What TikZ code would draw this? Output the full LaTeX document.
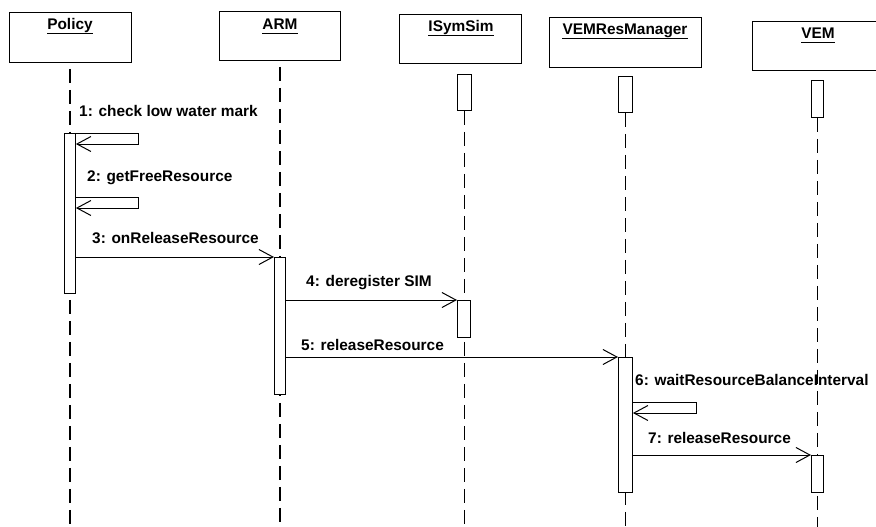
\documentclass[tikz,border=0pt]{standalone}
\usepackage{fontspec}
\setmainfont{Liberation Sans}
\usetikzlibrary{arrows.meta,calc}

\begin{document}
\begin{tikzpicture}[x=1pt,y=-1pt,
  font=\fontsize{15.4}{17}\selectfont\bfseries,
  headbox/.style={draw, line width=0.9pt, inner sep=0pt, anchor=north west},
  headtitle/.style={anchor=base, inner sep=0pt},
  titlerule/.style={line width=1.7pt},
  act/.style={draw, fill=white, line width=0.9pt, inner sep=0pt, anchor=north west, minimum width=11pt},
  lifeline/.style={line width=1.8pt, dash pattern=on 14pt off 7pt},
  msg/.style={line width=0.9pt, -{Straight Barb[length=14pt, width=15pt, line width=1pt]}},
  msglabel/.style={anchor=base west, inner sep=0pt},
]
\useasboundingbox (0,0) rectangle (876,527);
\clip (0,0) rectangle (876,527);
\coordinate (bottom) at (0,530);

% object heads
\node[headbox, minimum width=122pt, minimum height=50pt] (pol) at (9,12) {};
\node[headbox, minimum width=121pt, minimum height=49pt] (arm) at (219,11) {};
\node[headbox, minimum width=122pt, minimum height=49pt] (ism) at (399,14) {};
\node[headbox, minimum width=152pt, minimum height=50pt] (vrm) at (549,17) {};
\node[headbox, minimum width=140pt, minimum height=49pt] (vem) at (752,21) {};

\node[headtitle] (poltitle) at (70,30) {Policy};
\node[headtitle] (armtitle) at (280,30) {ARM};
\node[headtitle] (ismtitle) at (461,32) {ISymSim};
\node[headtitle] (vrmtitle) at (625,35) {VEMResManager};
\node[headtitle] (vemtitle) at (818,39) {VEM};
\foreach \t in {poltitle,armtitle,ismtitle,vrmtitle,vemtitle}
  \draw[titlerule] ($(\t.base west)+(0,3.5)$) -- ($(\t.base east)+(0,3.5)$);

% message labels
\node[msglabel] (l1) at (79,117) {1: check low water mark};
\node[msglabel] (l2) at (87,181) {2: getFreeResource};
\node[msglabel] (l3) at (92,243) {3: onReleaseResource};
\node[msglabel] (l4) at (306,286) {4: deregister SIM};
\node[msglabel] (l5) at (301,350) {5: releaseResource};
\node[msglabel] (l6) at (635,385) {6: waitResourceBalanceInterval};
\node[msglabel] (l7) at (648,443) {7: releaseResource};

% idle activation marks under the heads
\node[act, minimum width=14pt, minimum height=36pt] (ismtop) at (457,74) {};
\node[act, minimum width=14pt, minimum height=36pt] (vrmtop) at (618,76) {};
\node[act, minimum width=12pt, minimum height=37pt] (vemtop) at (811,80) {};

% lifelines
\coordinate (polx) at (70,0);
\coordinate (armx) at (280,0);
\draw[lifeline, shorten <=6pt] (polx |- pol.south) -- (polx |- bottom);
\draw[lifeline, shorten <=6pt] (armx |- arm.south) -- (armx |- bottom);
\draw[lifeline] (ismtop.south) -- (ismtop.south |- bottom);
\draw[lifeline] (vrmtop.south) -- (vrmtop.south |- bottom);
\draw[lifeline] (vemtop.south) -- (vemtop.south |- bottom);

% activations
\node[act, minimum height=160pt] (polact) at (64,133) {};
\node[act, minimum height=137pt] (armact) at (274,257) {};
\node[act, minimum width=13pt, minimum height=37pt] (ismact) at (457,300) {};
\node[act, minimum width=14pt, minimum height=135pt] (vrmact) at (618,357) {};
\node[act, minimum width=12pt, minimum height=37pt] (vemact) at (811,455) {};

% messages
\coordinate (s1) at (138,133);
\draw[msg] (polact.north east) -- (s1) -- (s1 |- 0,144) -- (polact.east |- 0,144);
\coordinate (s2) at (138,197);
\draw[msg] (polact.east |- s2) -- (s2) -- (s2 |- 0,208) -- (polact.east |- 0,208);
\draw[msg] (polact.east |- armact.north) -- (armact.north west);
\draw[msg] (armact.east |- ismact.north) -- (ismact.north west);
\draw[msg] (armact.east |- vrmact.north) -- (vrmact.north west);
\coordinate (s6) at (696,402);
\draw[msg] (vrmact.east |- s6) -- (s6) -- (s6 |- 0,413) -- (vrmact.east |- 0,413);
\draw[msg] (vrmact.east |- vemact.north) -- (vemact.north west);
\end{tikzpicture}
\end{document}
